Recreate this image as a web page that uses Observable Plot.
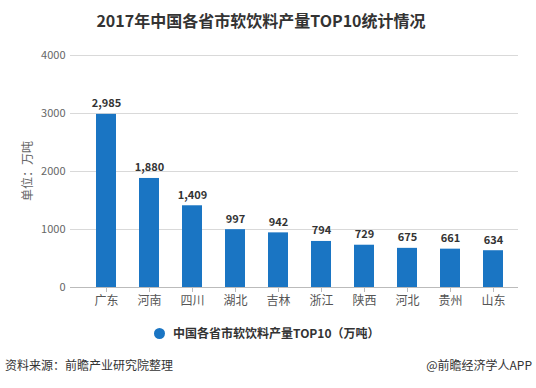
<!DOCTYPE html>
<html><head><meta charset="utf-8">
<script src="https://cdn.jsdelivr.net/npm/d3@7"></script>
<script src="https://cdn.jsdelivr.net/npm/@observablehq/plot@0.6"></script>
<style>
body{margin:0;background:#fff;font-family:"Noto Sans CJK SC","Noto Sans",sans-serif;}
#wrap{position:relative;width:536px;height:388px;overflow:hidden;}
#title{position:absolute;left:0;top:8px;width:522px;text-align:center;font-size:16px;font-weight:bold;color:#333;line-height:24px;}
#chart{position:absolute;left:0;top:40px;}
#ylabel{position:absolute;left:27px;top:171px;transform:translate(-50%,-50%) rotate(-90deg);font-size:12px;color:#666;white-space:nowrap;line-height:14px;}
#legend{position:absolute;left:154px;top:324px;font-size:12px;font-weight:bold;color:#333;line-height:18px;display:flex;align-items:center;}
#legend .dot{width:11px;height:11px;border-radius:50%;background:#1a75c3;margin-right:8px;}
#src{position:absolute;left:5px;top:356px;font-size:12px;color:#333;line-height:18px;}
#app{position:absolute;right:4px;top:356px;font-size:12px;color:#333;line-height:18px;}
</style></head>
<body><div id="wrap">
<div id="title"></div>
<div id="chart"></div>
<div id="ylabel"></div>
<div id="legend"><span class="dot"></span><span id="legtext"></span></div>
<div id="src"></div>
<div id="app"></div>
</div>
<script>
const title = "2017年中国各省市软饮料产量TOP10统计情况";
const provinces = ["广东","河南","四川","湖北","吉林","浙江","陕西","河北","贵州","山东"];
const values = [2985,1880,1409,997,942,794,729,675,661,634];
const yTicks = [0,1000,2000,3000,4000];
const yLabel = "单位：万吨";
const seriesName = "中国各省市软饮料产量TOP10（万吨）";
const sourceText = "资料来源：前瞻产业研究院整理";
const appText = "@前瞻经济学人APP";
const barColor = "#1a75c3";

document.getElementById("title").textContent = title;
document.getElementById("ylabel").textContent = yLabel;
document.getElementById("legtext").textContent = seriesName;
document.getElementById("src").textContent = sourceText;
document.getElementById("app").textContent = appText;

const data = provinces.map((p,i)=>({province:p, value:values[i]}));
const fmt = d3.format(",");

const chart = Plot.plot({
  width: 536,
  height: 276,
  marginTop: 15,
  marginLeft: 70,
  marginRight: 18,
  marginBottom: 29,
  style: {fontFamily: '"Noto Sans CJK SC","Noto Sans",sans-serif', background: "transparent"},
  x: {domain: provinces, range: [80, 518], paddingInner: 0.54, paddingOuter: 0.27},
  y: {domain: [0, 4000], ticks: yTicks},
  marks: [
    Plot.gridY(yTicks, {stroke: "#d9d9d9", strokeOpacity: 1}),
    Plot.ruleY([0], {stroke: "#bbb"}),
    Plot.barY(data, {x: "province", y: "value", fill: barColor}),
    Plot.text(data, {x: "province", y: "value", text: d => fmt(d.value), dy: -7, lineAnchor: "bottom", fontWeight: "bold", fontSize: 11, fill: "#333"}),
    Plot.axisY(yTicks, {tickSize: 0, tickPadding: 5, fontSize: 11, color: "#666", tickFormat: d => String(d), label: null}),
    Plot.axisX({tickSize: 5, tickPadding: 4, fontSize: 12, color: "#555", stroke: "#bbb", label: null})
  ]
});
document.getElementById("chart").appendChild(chart);
</script>
</body></html>
